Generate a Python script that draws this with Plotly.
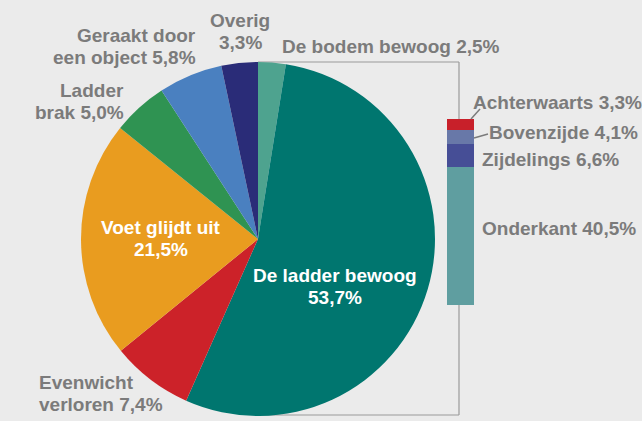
import plotly.graph_objects as go

W, H = 642, 421

# ---- data ----
pie_labels = ["De bodem bewoog", "De ladder bewoog", "Evenwicht verloren", "Voet glijdt uit",
              "Ladder brak", "Geraakt door een object", "Overig"]
pie_values = [2.5, 53.7, 7.4, 21.5, 5.0, 5.8, 3.3]
pie_colors = ["#4ea38f", "#00766f", "#cc2229", "#e99c1f", "#2f9352", "#4a80c0", "#2a2c78"]

bar_labels = ["Onderkant", "Zijdelings", "Bovenzijde", "Achterwaarts"]
bar_values = [40.5, 6.6, 4.1, 3.3]
bar_colors = ["#5f9ea0", "#464e96", "#6878a8", "#c8202a"]

def fmt(v):
    return f"{v:.1f}".replace(".", ",") + "%"

def px(x):
    return x / W

def py(y):
    return 1 - y / H

fig = go.Figure()

# pie: center (258, 239), radius 177
cx, cy, r = 258, 239, 177
fig.add_trace(go.Pie(
    labels=pie_labels, values=pie_values, sort=False, direction="clockwise", rotation=0,
    marker=dict(colors=pie_colors, line=dict(width=0)),
    textinfo="none", hoverinfo="label+percent", showlegend=False,
    domain=dict(x=[px(cx - r), px(cx + r)], y=[py(cy + r), py(cy - r)]),
))

# stacked bar
for lab, val, col in zip(bar_labels, bar_values, bar_colors):
    fig.add_trace(go.Bar(x=[0], y=[val], name=lab, marker=dict(color=col, line=dict(width=0)),
                         width=1, showlegend=False, xaxis="x", yaxis="y"))

GRAY = "#7b7b7b"
FONT = "Liberation Sans, Arial, sans-serif"
FS = 19
LH = 22

ann = []
def add(lines, x, y, xanchor="center", color=GRAY):
    n = len(lines)
    for i, t in enumerate(lines):
        yy = y + (i - (n - 1) / 2) * LH
        ann.append(dict(text=f"<b>{t}</b>", x=px(x), y=py(yy), xref="paper", yref="paper",
                        xanchor=xanchor, yanchor="middle", showarrow=False,
                        font=dict(family=FONT, size=FS, color=color)))

pl = dict(zip(pie_labels, pie_values))
bl = dict(zip(bar_labels, bar_values))
add(["Geraakt door", f"een object {fmt(pl['Geraakt door een object'])}"], 198, 46, "right")
add(["Overig", fmt(pl['Overig'])], 240, 31, "center")
add([f"De bodem bewoog {fmt(pl['De bodem bewoog'])}"], 280, 46, "left")
add(["Ladder", f"brak {fmt(pl['Ladder brak'])}"], 126, 101, "right")
add(["Voet glijdt uit", fmt(pl['Voet glijdt uit'])], 161, 238, "center", "#ffffff")
add(["De ladder bewoog", fmt(pl['De ladder bewoog'])], 335, 286, "center", "#ffffff")
add(["Evenwicht", f"verloren {fmt(pl['Evenwicht verloren'])}"], 37, 393, "left")
add([f"Achterwaarts {fmt(bl['Achterwaarts'])}"], 471, 102, "left")
add([f"Bovenzijde {fmt(bl['Bovenzijde'])}"], 487, 133, "left")
add([f"Zijdelings {fmt(bl['Zijdelings'])}"], 480, 160, "left")
add([f"Onderkant {fmt(bl['Onderkant'])}"], 480, 228, "left")

LINE = dict(color="#9a9a9a", width=1.2)
shapes = [
    dict(type="line", xref="paper", yref="paper", x0=px(cx), y0=py(62), x1=px(459), y1=py(62), line=LINE, layer="below"),
    dict(type="line", xref="paper", yref="paper", x0=px(459), y0=py(62), x1=px(459), y1=py(415), line=LINE, layer="below"),
    dict(type="line", xref="paper", yref="paper", x0=px(459), y0=py(415), x1=px(cx), y1=py(415), line=LINE, layer="below"),
    dict(type="line", xref="paper", yref="paper", x0=px(480), y0=py(109), x1=px(471), y1=py(119), line=dict(color=GRAY, width=1.5)),
    dict(type="line", xref="paper", yref="paper", x0=px(474), y0=py(138), x1=px(488), y1=py(134), line=dict(color=GRAY, width=1.5)),
]

fig.update_layout(
    width=W, height=H, margin=dict(l=0, r=0, t=0, b=0),
    paper_bgcolor="#ebebeb", plot_bgcolor="rgba(0,0,0,0)",
    barmode="stack",
    xaxis=dict(domain=[px(447), px(474)], range=[-0.5, 0.5], visible=False, fixedrange=True),
    yaxis=dict(domain=[py(305), py(119)], range=[0, sum(bar_values)], visible=False, fixedrange=True),
    annotations=ann, shapes=shapes,
)

fig.write_html("out.html", config={"displayModeBar": False},
               post_script="document.body.style.margin='0';document.body.style.background='#ebebeb';")
